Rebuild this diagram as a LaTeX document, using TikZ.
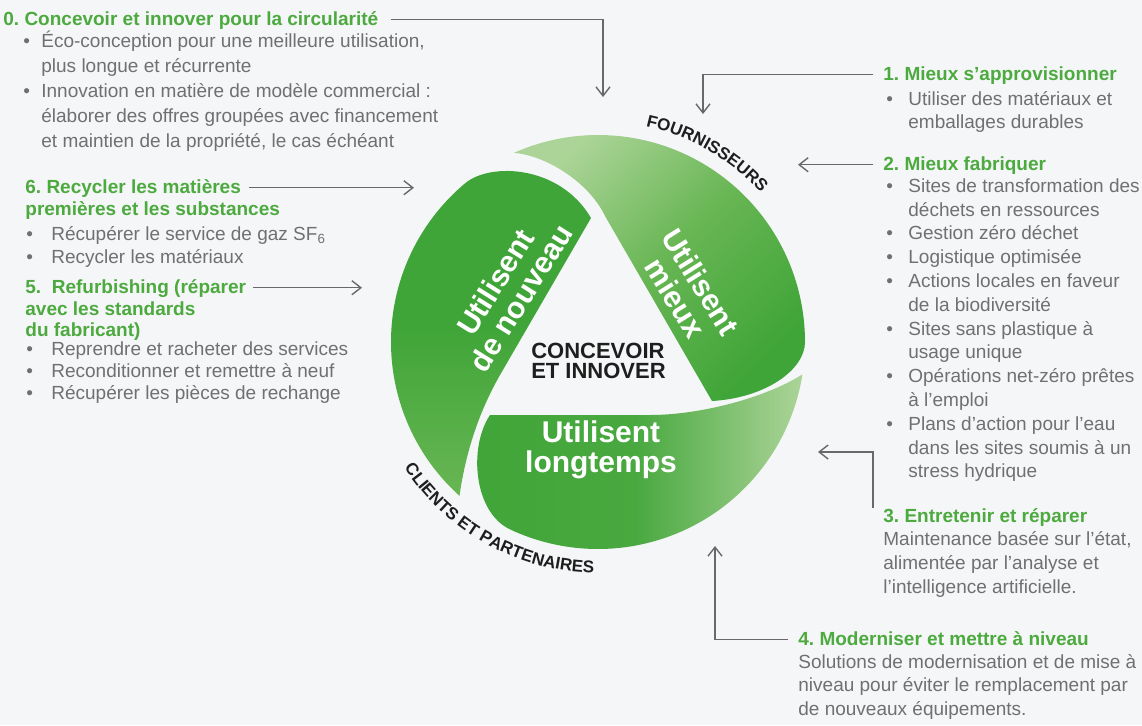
\documentclass[tikz,border=0pt]{standalone}
\usepackage{fontspec}
\setmainfont{Liberation Sans}
\usetikzlibrary{arrows.meta,decorations.text}
\frenchspacing

\definecolor{bggray}{RGB}{245,246,248}
\definecolor{headgreen}{RGB}{76,170,62}
\definecolor{bodygray}{RGB}{112,112,112}
\definecolor{arrowgray}{RGB}{105,105,105}
\definecolor{labelblack}{RGB}{30,30,30}
\definecolor{leafdark}{RGB}{64,165,56}
\definecolor{leafmid}{RGB}{104,182,84}
\definecolor{leaflight}{RGB}{172,212,152}

\newcommand{\lbul}[1][11pt]{\makebox[#1][l]{\textbullet}\ignorespaces}
\newcommand{\lcon}[1][11pt]{\hspace*{#1}\ignorespaces}

\tikzset{
  head/.style={font=\fontsize{9.5}{12}\selectfont\bfseries, text=headgreen, inner sep=0pt, anchor=base west},
  body/.style={font=\fontsize{9.5}{12}\selectfont, text=bodygray, inner sep=0pt, align=left, anchor=north west},
  arr/.style={draw=arrowgray, line width=0.7pt, -{Straight Barb[length=4.5pt,width=7pt]}},
  leaftext/.style={font=\fontsize{15}{15}\selectfont\bfseries, text=white, align=center, inner sep=0pt},
  ringtext/.style={decorate, decoration={text along path, text align=center, text color=labelblack}}
}

\begin{document}
\begin{tikzpicture}[x=0.5pt,y=0.5pt]
  \fill[bggray] (0,0) rectangle (1142,-725);
  \useasboundingbox (0,0) rectangle (1142,-725);

  \coordinate (O) at (598,-342);

  \shade[top color=leaflight, bottom color=leafdark, middle color=leafmid, shading angle=45]
    ([shift={(114:207)}]O) arc[start angle=114, end angle=0, radius=207]
    .. controls (805,-370) and (765,-398) .. (712,-401)
    -- (605,-216)
    .. controls (589,-182) and (545,-155) .. ([shift={(114:207)}]O) -- cycle;
  \shade[top color=leafdark, bottom color=leafmid, middle color=leafdark]
    ([shift={(228:207)}]O) arc[start angle=228, end angle=130, radius=207]
    .. controls (490,-162) and (560,-165) .. (591,-218)
    -- (500,-375)
    .. controls (480,-410) and (466,-450) .. ([shift={(228:207)}]O) -- cycle;
  \shade[left color=leafdark, right color=leaflight, middle color=leafdark!92!leaflight]
    ([shift={(-9:207)}]O) arc[start angle=-9, end angle=-115, radius=207]
    .. controls (474,-513) and (468,-448) .. (490,-415)
    -- (650,-415)
    .. controls (700,-415) and (765,-398) .. ([shift={(-9:207)}]O) -- cycle;

  \node[leaftext, rotate=58] (again) at (508,-290) {Utilisent\\de nouveau};
  \node[leaftext, rotate=-58] (better) at (688,-290) {Utilisent\\mieux};
  \node[leaftext] (longer) at (601,-450) {Utilisent\\longtemps};
  \node[font=\fontsize{11}{10}\selectfont\bfseries, text=labelblack, align=left, inner sep=0pt] (core) at (598.5,-360.5) {CONCEVOIR\\ET INNOVER};

  \path[ringtext, decoration={text={|\fontsize{8.5}{10}\selectfont\bfseries|FOURNISSEURS}}]
    ([shift={(80:221)}]O) arc[start angle=80, end angle=40, radius=221];
  \path[ringtext, decoration={text={|\fontsize{8.5}{10}\selectfont\bfseries|CLIENTS ET PARTENAIRES}}]
    ([shift={(200:231)}]O) arc[start angle=200, end angle=282, radius=231];

  \node[head] (h0) at (3,-25) {0. Concevoir et innover pour la circularité};
  \node[body, font=\fontsize{9.5}{12.5}\selectfont] (b0) at (23,-29.5) {\strut\lbul[9pt] Éco-conception pour une meilleure utilisation,\\
    \lcon[9pt] plus longue et récurrente\\
    \lbul[9pt] Innovation en matière de modèle commercial :\\
    \lcon[9pt] élaborer des offres groupées avec financement\\
    \lcon[9pt] et maintien de la propriété, le cas échéant};

  \node[head] (h6) at (25,-193) {6. Recycler les matières};
  \node[head] (h6b) at (25,-215) {premières et les substances};
  \node[body, font=\fontsize{9.5}{11.5}\selectfont] (b6) at (26,-223.9) {\strut\lbul[12.5pt] Récupérer le service de gaz SF\textsubscript{6}\\
    \lbul[12.5pt] Recycler les matériaux};

  \node[head] (h5) at (25,-293) {5.~ Refurbishing (réparer};
  \node[head, anchor=north west, align=left, font=\fontsize{9.5}{10.5}\selectfont\bfseries] (h5b) at (25,-300.3) {\strut avec les standards\\du fabricant)};
  \node[body, font=\fontsize{9.5}{11}\selectfont] (b5) at (26,-339.6) {\strut\lbul[12.5pt] Reprendre et racheter des services\\
    \lbul[12.5pt] Reconditionner et remettre à neuf\\
    \lbul[12.5pt] Récupérer les pièces de rechange};

  \node[head] (h1) at (883,-80) {1. Mieux s'approvisionner};
  \node[body, font=\fontsize{9.5}{11.5}\selectfont] (b1) at (886,-88.9) {\strut\lbul Utiliser des matériaux et\\
    \lcon emballages durables};

  \node[head] (h2) at (883,-170) {2. Mieux fabriquer};
  \node[body, font=\fontsize{9.5}{11.9}\selectfont] (b2) at (886,-175.3) {\strut\lbul Sites de transformation des\\
    \lcon déchets en ressources\\
    \lbul Gestion zéro déchet\\
    \lbul Logistique optimisée\\
    \lbul Actions locales en faveur\\
    \lcon de la biodiversité\\
    \lbul Sites sans plastique à\\
    \lcon usage unique\\
    \lbul Opérations net-zéro prêtes\\
    \lcon à l'emploi\\
    \lbul Plans d'action pour l'eau\\
    \lcon dans les sites soumis à un\\
    \lcon stress hydrique};

  \node[head] (h3) at (883,-522) {3. Entretenir et réparer};
  \node[body] (b3) at (883,-528.2) {\strut Maintenance basée sur l'état,\\
    alimentée par l'analyse et\\
    l'intelligence artificielle.};

  \node[head] (h4) at (798,-645) {4. Moderniser et mettre à niveau};
  \node[body, font=\fontsize{9.5}{11.75}\selectfont] (b4) at (798,-651.5) {\strut Solutions de modernisation et de mise à\\
    niveau pour éviter le remplacement par\\
    de nouveaux équipements.};

  \coordinate (a0) at (603,-97);
  \coordinate (a1) at (703,-114);
  \coordinate (a2) at (798,0);
  \coordinate (a3) at (818,-452);
  \coordinate (a4) at (715,-546);
  \coordinate (a5) at (362,0);
  \coordinate (a6) at (414,0);

  \draw[arr, shorten <=6pt] (h0.mid east) -| (a0);
  \draw[arr, shorten <=5pt] (h1.mid west) -| (a1);
  \draw[arr, shorten <=5pt] (h2.mid west) -- (h2.mid west -| a2);
  \draw[arr] ([xshift=-5pt]h3.north west) |- (a3);
  \draw[arr, shorten <=5pt] (h4.mid west) -| (a4);
  \draw[arr, shorten <=3.5pt] (h5.mid east) -- (h5.mid east -| a5);
  \draw[arr, shorten <=4pt] (h6.mid east) -- (h6.mid east -| a6);
\end{tikzpicture}
\end{document}
